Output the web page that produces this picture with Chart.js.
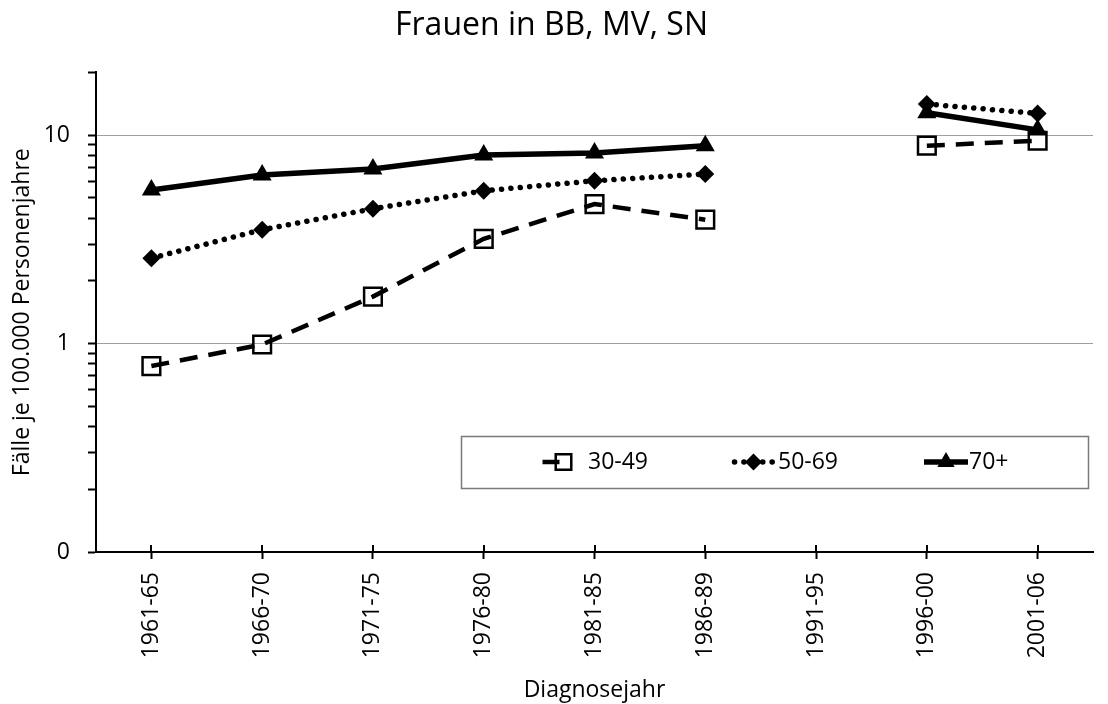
<!DOCTYPE html>
<html>
<head>
<meta charset="utf-8">
<script src="https://cdn.jsdelivr.net/npm/chart.js@4/dist/chart.umd.min.js"></script>
<style>
html, body { margin: 0; padding: 0; background: #fff; }
#wrap { width: 1108px; height: 704px; }
canvas { display: block; }
</style>
</head>
<body>
<div id="wrap"><canvas id="c" width="1108" height="704"></canvas></div>
<script>
// ---- data ----
const categories = ['1961-65', '1966-70', '1971-75', '1976-80', '1981-85', '1986-89', '1991-95', '1996-00', '2001-06'];
const seriesNames = ['30-49', '50-69', '70+'];
const age3049 = [0.78, 0.99, 1.68, 3.18, 4.67, 3.93, null, 8.9, 9.4];
const age5069 = [2.57, 3.52, 4.43, 5.41, 6.04, 6.51, null, 14.1, 12.7];
const age70plus = [5.46, 6.44, 6.88, 8.02, 8.2, 8.89, null, 12.8, 10.6];
const yTickValues = [0.1, 0.2, 0.3, 0.4, 0.5, 0.6, 0.7, 0.8, 0.9, 1, 2, 3, 4, 5, 6, 7, 8, 9, 10, 20];
const yLabelValues = [0.1, 1, 10];
const yLabelTexts = ['0', '1', '10'];
const yGridValues = [1, 10];

const FONT = "'Open Sans', sans-serif";

function drawMarker(ctx, opts, x, y) {
  if (window.Chart && Chart.helpers && Chart.helpers.drawPoint) {
    Chart.helpers.drawPoint(ctx, opts, x, y);
    return;
  }
  const r = opts.radius;
  ctx.beginPath();
  if (opts.pointStyle === 'rect') {
    const s = Math.SQRT1_2 * r;
    ctx.rect(x - s, y - s, 2 * s, 2 * s);
  } else if (opts.pointStyle === 'rectRot') {
    ctx.moveTo(x - r, y); ctx.lineTo(x, y - r); ctx.lineTo(x + r, y); ctx.lineTo(x, y + r); ctx.closePath();
  } else {
    ctx.moveTo(x, y - r);
    ctx.lineTo(x + Math.sin(2.0944) * r, y - Math.cos(2.0944) * r);
    ctx.lineTo(x + Math.sin(4.1888) * r, y - Math.cos(4.1888) * r);
    ctx.closePath();
  }
  ctx.fill();
  if (opts.borderWidth > 0) ctx.stroke();
}

const legendBox = { left: 461, top: 436, right: 1088, bottom: 488 };
const legendLayout = [
  { cx: 563.5, half: 21, dash: [17, 40], textX: 588 },
  { cx: 753.5, half: 19, dash: null, textX: 778 },
  { cx: 946, half: 22, dash: [], textX: 969 }
];

const decorPlugin = {
  id: 'decor',
  afterDraw(chart) {
    const ctx = chart.ctx;
    const xs = chart.scales.x;
    const yb = chart.chartArea.bottom;
    ctx.save();
    ctx.strokeStyle = '#000';
    ctx.lineWidth = 2;
    for (let i = 0; i < categories.length; i++) {
      const px = Math.round(xs.getPixelForTick(i));
      ctx.beginPath();
      ctx.moveTo(px, yb - 7);
      ctx.lineTo(px, yb);
      ctx.stroke();
    }
    ctx.restore();

    ctx.save();
    ctx.fillStyle = '#fff';
    ctx.fillRect(legendBox.left, legendBox.top, legendBox.right - legendBox.left, legendBox.bottom - legendBox.top);
    ctx.strokeStyle = '#7a7a7a';
    ctx.lineWidth = 1.5;
    ctx.strokeRect(legendBox.left + 0.5, legendBox.top + 0.5, legendBox.right - legendBox.left, legendBox.bottom - legendBox.top);
    const cy = (legendBox.top + legendBox.bottom) / 2;
    chart.data.datasets.forEach((ds, i) => {
      const L = legendLayout[i];
      ctx.save();
      ctx.strokeStyle = ds.borderColor;
      ctx.lineWidth = ds.borderWidth;
      ctx.lineCap = ds.borderCapStyle || 'butt';
      ctx.setLineDash(L.dash ? L.dash : (ds.borderDash || []));
      ctx.beginPath();
      ctx.moveTo(L.cx - L.half, cy);
      ctx.lineTo(L.cx + L.half, cy);
      ctx.stroke();
      ctx.restore();
      ctx.save();
      ctx.setLineDash([]);
      ctx.fillStyle = ds.pointBackgroundColor;
      ctx.strokeStyle = ds.pointBorderColor || '#000';
      ctx.lineWidth = ds.pointBorderWidth || 0;
      drawMarker(ctx, { pointStyle: ds.pointStyle, radius: ds.legendRadius || ds.pointRadius, borderWidth: ds.pointBorderWidth || 0, rotation: 0 }, L.cx, cy);
      ctx.restore();
      ctx.save();
      ctx.fillStyle = '#000';
      ctx.font = '23px ' + FONT;
      ctx.textAlign = 'left';
      ctx.textBaseline = 'middle';
      ctx.fillText(ds.label, L.textX, cy);
      ctx.restore();
    });
    ctx.restore();
  }
};

new Chart(document.getElementById('c'), {
  type: 'line',
  data: {
    labels: categories,
    datasets: [
      {
        label: seriesNames[0], data: age3049,
        borderColor: '#000', borderWidth: 4.5, borderDash: [18, 11], borderCapStyle: 'butt',
        pointStyle: 'rect', pointRadius: 12.5, legendRadius: 11, pointBorderWidth: 2.5,
        pointBorderColor: '#000', pointBackgroundColor: 'rgba(0,0,0,0)',
        spanGaps: false, tension: 0, fill: false
      },
      {
        label: seriesNames[1], data: age5069,
        borderColor: '#000', borderWidth: 5.5, borderDash: [0.1, 9.3], borderCapStyle: 'round',
        pointStyle: 'rectRot', pointRadius: 9, legendRadius: 8.5, pointBorderWidth: 0,
        pointBorderColor: '#000', pointBackgroundColor: '#000',
        spanGaps: false, tension: 0, fill: false
      },
      {
        label: seriesNames[2], data: age70plus,
        borderColor: '#000', borderWidth: 5.5, borderCapStyle: 'butt',
        pointStyle: 'triangle', pointRadius: 11, legendRadius: 10, pointBorderWidth: 0,
        pointBorderColor: '#000', pointBackgroundColor: '#000',
        spanGaps: false, tension: 0, fill: false
      }
    ]
  },
  options: {
    responsive: false,
    animation: false,
    layout: { padding: { left: 0, right: 5, top: 0, bottom: 0 } },
    plugins: {
      legend: { display: false },
      tooltip: { enabled: false },
      title: {
        display: true, text: 'Frauen in BB, MV, SN', color: '#000',
        font: { family: FONT, size: 32, weight: 'normal' },
        padding: { top: 7, bottom: 27 }
      }
    },
    scales: {
      x: {
        type: 'category',
        offset: true,
        grid: { display: true, drawOnChartArea: false, offset: false, tickLength: 7, tickColor: '#000', tickWidth: 2 },
        border: { display: true, color: '#000', width: 2 },
        ticks: { color: '#000', font: { family: FONT, size: 23 }, minRotation: 90, maxRotation: 90, padding: 13, autoSkip: false },
        title: { display: true, text: 'Diagnosejahr', color: '#000', font: { family: FONT, size: 23 }, padding: { top: 0, bottom: 0 } },
        afterFit(s) { s.height = 152; }
      },
      y: {
        type: 'logarithmic',
        min: 0.1, max: 20,
        afterBuildTicks(s) { s.ticks = yTickValues.map(v => ({ value: v })); },
        grid: {
          color(ctx) { return (ctx.tick && yGridValues.indexOf(ctx.tick.value) >= 0) ? '#a0a0a0' : 'rgba(0,0,0,0)'; },
          lineWidth: 1, tickColor: '#000', tickLength: 8, tickWidth: 2
        },
        border: { display: true, color: '#000', width: 2 },
        ticks: {
          autoSkip: false, color: '#000', font: { family: FONT, size: 23 }, padding: 18,
          callback(v) { const i = yLabelValues.indexOf(v); return i >= 0 ? yLabelTexts[i] : ''; }
        },
        title: { display: true, text: 'Fälle je 100.000 Personenjahre', color: '#000', font: { family: FONT, size: 23 }, padding: { top: 9, bottom: 0 } },
        afterFit(s) { s.width = 96; }
      }
    }
  },
  plugins: [decorPlugin]
});
</script>
</body>
</html>
